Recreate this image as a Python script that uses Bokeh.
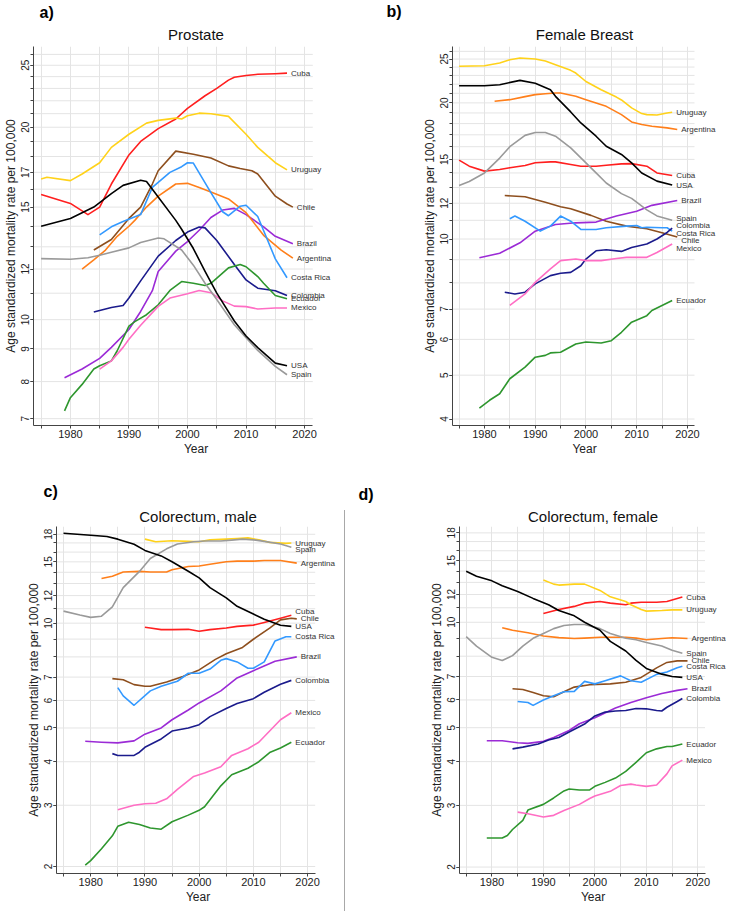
from bokeh.plotting import figure
from bokeh.models import ColumnDataSource, LabelSet, FixedTicker, Range1d, Title, Div, Spacer
from bokeh.layouts import row, column
from bokeh.core.properties import value
from bokeh.embed import file_html
from bokeh.resources import INLINE

FONT = "Liberation Sans"
COLORS = {
    "Cuba": "#ff1f1f", "Uruguay": "#ffd21a", "Chile": "#8e4f1e", "Brazil": "#9b2bd6",
    "Argentina": "#ff7f1a", "Costa Rica": "#3399ff", "Colombia": "#1b1b8c",
    "Ecuador": "#2e962e", "Mexico": "#ff6ec4", "USA": "#000000", "Spain": "#9a9a9a",
}

# ---------------- a) Prostate ----------------
a_cuba_yr = [1975, 1980, 1983, 1985, 1987, 1990, 1992, 1995, 1998, 2000, 2003, 2005, 2007, 2008, 2010, 2012, 2015, 2017]
a_cuba = [15.7, 15.2, 14.6, 15.0, 16.3, 18.1, 19.0, 19.9, 20.6, 21.4, 22.4, 23.0, 23.7, 23.95, 24.1, 24.2, 24.25, 24.3]
a_uruguay_yr = [1975, 1976, 1980, 1982, 1985, 1987, 1990, 1993, 1995, 1998, 1999, 2000, 2002, 2004, 2007, 2010, 2012, 2015, 2017]
a_uruguay = [16.6, 16.7, 16.5, 16.9, 17.6, 18.6, 19.5, 20.3, 20.5, 20.67, 20.6, 20.84, 21.04, 21.0, 20.8, 19.5, 18.6, 17.6, 17.15]
a_chile_yr = [1984, 1987, 1990, 1992, 1994, 1995, 1998, 2001, 2004, 2007, 2009, 2011, 2012, 2015, 2017, 2018]
a_chile = [12.85, 13.35, 14.4, 15.0, 16.3, 17.1, 18.35, 18.14, 17.9, 17.4, 17.24, 17.1, 16.9, 15.6, 15.17, 15.0]
a_brazil_yr = [1979, 1982, 1985, 1987, 1990, 1992, 1994, 1995, 1998, 2000, 2002, 2004, 2006, 2008, 2010, 2013, 2015, 2018]
a_brazil = [8.11, 8.37, 8.7, 9.05, 9.65, 10.3, 11.1, 11.89, 12.8, 13.25, 13.8, 14.45, 14.84, 14.93, 14.6, 13.97, 13.5, 13.15]
a_argentina_yr = [1982, 1984, 1986, 1988, 1990, 1991, 1993, 1995, 1998, 2000, 2002, 2004, 2007, 2010, 2013, 2016, 2018]
a_argentina = [12.0, 12.4, 12.85, 13.5, 14.0, 14.3, 15.0, 15.6, 16.3, 16.34, 16.1, 15.84, 15.45, 14.7, 13.55, 12.85, 12.48]
a_costarica_yr = [1985, 1987, 1989, 1992, 1994, 1997, 1999, 2000, 2001, 2004, 2006, 2007, 2009, 2010, 2012, 2015, 2017]
a_costarica = [13.57, 13.97, 14.24, 14.6, 16.1, 17.0, 17.35, 17.6, 17.58, 15.8, 14.75, 14.54, 15.05, 15.1, 14.5, 12.45, 11.63]
a_colombia_yr = [1984, 1987, 1989, 1990, 1992, 1995, 1998, 2000, 2002, 2003, 2005, 2008, 2010, 2012, 2015, 2017]
a_colombia = [10.28, 10.45, 10.52, 10.81, 11.5, 12.57, 13.3, 13.71, 13.96, 13.92, 13.3, 12.2, 11.54, 11.2, 11.1, 10.91]
a_ecuador_yr = [1979, 1980, 1982, 1984, 1985, 1987, 1988, 1990, 1991, 1993, 1995, 1997, 1999, 2001, 2003, 2004, 2007, 2009, 2010, 2012, 2013, 2015, 2017]
a_ecuador = [7.2, 7.55, 7.92, 8.37, 8.47, 8.62, 8.94, 9.77, 9.93, 10.18, 10.55, 11.11, 11.47, 11.4, 11.31, 11.4, 12.05, 12.2, 12.1, 11.68, 11.4, 10.91, 10.78]
a_mexico_yr = [1985, 1987, 1989, 1990, 1992, 1995, 1997, 2000, 2002, 2004, 2006, 2008, 2010, 2012, 2015, 2017]
a_mexico = [8.37, 8.62, 9.05, 9.32, 9.8, 10.49, 10.81, 10.98, 11.11, 11.02, 10.7, 10.5, 10.48, 10.39, 10.43, 10.43]
a_usa_yr = [1975, 1980, 1984, 1987, 1989, 1992, 1993, 1995, 1998, 1999, 2001, 2003, 2005, 2008, 2010, 2012, 2015, 2017]
a_usa = [14.0, 14.4, 15.0, 15.75, 16.22, 16.52, 16.45, 15.55, 14.3, 13.85, 12.92, 11.9, 11.0, 9.95, 9.43, 9.04, 8.55, 8.47]
a_spain_yr = [1975, 1980, 1983, 1985, 1987, 1990, 1992, 1995, 1996, 1999, 2001, 2003, 2005, 2008, 2010, 2012, 2015, 2017]
a_spain = [12.46, 12.43, 12.5, 12.61, 12.75, 12.95, 13.2, 13.42, 13.38, 12.85, 12.17, 11.4, 10.75, 9.82, 9.37, 8.95, 8.45, 8.2]

# ---------------- b) Female Breast ----------------
b_uruguay_yr = [1975, 1980, 1983, 1985, 1987, 1990, 1992, 1994, 1997, 1998, 2000, 2003, 2006, 2007, 2009, 2011, 2012, 2014, 2016, 2017]
b_uruguay = [24.1, 24.17, 24.5, 24.92, 25.13, 25.0, 24.75, 24.3, 23.6, 23.28, 22.3, 21.39, 20.6, 20.3, 19.5, 18.94, 18.84, 18.81, 19.0, 19.07]
b_usa_yr = [1975, 1980, 1983, 1987, 1990, 1993, 1994, 1997, 1999, 2002, 2004, 2007, 2009, 2011, 2014, 2017]
b_usa = [21.83, 21.83, 21.94, 22.43, 22.1, 21.39, 20.68, 19.1, 18.06, 16.88, 16.04, 15.38, 14.74, 14.0, 13.43, 13.16]
b_argentina_yr = [1982, 1985, 1988, 1990, 1992, 1994, 1995, 1998, 2000, 2002, 2004, 2007, 2009, 2011, 2013, 2016, 2018]
b_argentina = [20.16, 20.33, 20.65, 20.86, 20.96, 21.03, 21.03, 20.68, 20.33, 19.99, 19.65, 18.84, 18.15, 17.91, 17.76, 17.61, 17.46]
b_spain_yr = [1975, 1977, 1980, 1983, 1985, 1988, 1990, 1992, 1994, 1997, 1999, 2002, 2004, 2007, 2009, 2012, 2014, 2017]
b_spain = [13.13, 13.4, 14.0, 15.1, 16.0, 16.95, 17.2, 17.2, 16.88, 15.9, 15.12, 14.0, 13.3, 12.6, 12.3, 11.6, 11.25, 11.0]
b_cuba_yr = [1975, 1977, 1980, 1983, 1985, 1988, 1990, 1993, 1994, 1997, 1999, 2002, 2004, 2007, 2009, 2012, 2014, 2017]
b_cuba = [14.94, 14.49, 14.13, 14.25, 14.37, 14.54, 14.74, 14.81, 14.81, 14.61, 14.49, 14.49, 14.56, 14.66, 14.68, 14.49, 14.0, 13.82]
b_brazil_yr = [1979, 1983, 1987, 1990, 1994, 1998, 2002, 2006, 2010, 2013, 2018]
b_brazil = [9.09, 9.3, 9.81, 10.41, 10.77, 10.86, 10.9, 11.24, 11.52, 11.87, 12.17]
b_chile_yr = [1984, 1988, 1992, 1995, 1997, 2001, 2004, 2008, 2012, 2015, 2018]
b_chile = [12.48, 12.4, 12.06, 11.79, 11.67, 11.28, 10.95, 10.68, 10.54, 10.33, 10.1]
b_costarica_yr = [1985, 1986, 1988, 1991, 1993, 1995, 1997, 1999, 2002, 2004, 2008, 2010, 2011, 2012, 2015, 2016, 2017]
b_costarica = [11.09, 11.24, 10.95, 10.41, 10.68, 11.24, 10.95, 10.5, 10.5, 10.59, 10.68, 10.71, 10.59, 10.62, 10.59, 10.59, 10.41]
b_colombia_yr = [1984, 1986, 1988, 1990, 1993, 1995, 1997, 1999, 2000, 2002, 2004, 2007, 2009, 2012, 2014, 2016, 2017]
b_colombia = [7.63, 7.56, 7.63, 7.96, 8.3, 8.4, 8.44, 8.73, 9.03, 9.42, 9.47, 9.39, 9.58, 9.75, 10.0, 10.34, 10.57]
b_mexico_yr = [1985, 1988, 1990, 1993, 1995, 1998, 2000, 2003, 2006, 2008, 2012, 2014, 2017]
b_mexico = [7.13, 7.56, 8.02, 8.59, 8.96, 9.03, 8.96, 8.96, 9.06, 9.11, 9.11, 9.34, 9.75]
b_ecuador_yr = [1979, 1981, 1983, 1985, 1988, 1990, 1992, 1993, 1995, 1998, 2000, 2003, 2005, 2007, 2009, 2012, 2013, 2015, 2017]
b_ecuador = [4.23, 4.4, 4.55, 4.91, 5.21, 5.48, 5.53, 5.6, 5.62, 5.86, 5.92, 5.89, 5.96, 6.22, 6.55, 6.77, 6.95, 7.13, 7.31]

# ---------------- c) Colorectum, male ----------------
c_usa_yr = [1975, 1980, 1983, 1985, 1988, 1990, 1993, 1995, 1998, 2000, 2002, 2005, 2007, 2010, 2012, 2015, 2017]
c_usa = [18.12, 17.88, 17.73, 17.43, 16.85, 16.18, 15.6, 15.01, 14.1, 13.49, 12.65, 11.82, 11.18, 10.62, 10.26, 9.86, 9.79]
c_uruguay_yr = [1990, 1992, 1995, 1998, 2000, 2002, 2005, 2007, 2009, 2011, 2013, 2016, 2017]
c_uruguay = [17.43, 17.13, 17.25, 17.17, 17.13, 17.35, 17.43, 17.51, 17.58, 17.35, 17.06, 16.95, 16.99]
c_spain_yr = [1975, 1978, 1980, 1982, 1984, 1986, 1989, 1991, 1994, 1996, 1999, 2001, 2004, 2006, 2008, 2010, 2012, 2015, 2017]
c_spain = [10.83, 10.55, 10.39, 10.47, 11.13, 12.65, 14.08, 15.34, 16.35, 16.88, 17.13, 17.21, 17.21, 17.32, 17.43, 17.35, 17.17, 16.88, 16.53]
c_argentina_yr = [1982, 1984, 1986, 1989, 1991, 1994, 1995, 1998, 2000, 2002, 2005, 2007, 2010, 2012, 2015, 2018]
c_argentina = [13.43, 13.64, 14.02, 14.08, 14.02, 14.02, 14.23, 14.54, 14.6, 14.76, 15.01, 15.07, 15.07, 15.13, 15.13, 14.87]
c_cuba_yr = [1990, 1991, 1993, 1995, 1998, 2000, 2002, 2005, 2007, 2010, 2012, 2015, 2017]
c_cuba = [9.73, 9.69, 9.58, 9.58, 9.6, 9.48, 9.58, 9.69, 9.79, 9.87, 10.05, 10.33, 10.53]
c_chile_yr = [1984, 1986, 1988, 1990, 1991, 1994, 1997, 2000, 2003, 2005, 2008, 2010, 2013, 2015, 2017, 2018]
c_chile = [6.93, 6.88, 6.66, 6.59, 6.59, 6.78, 7.03, 7.34, 7.87, 8.17, 8.52, 8.99, 9.68, 10.22, 10.33, 10.29]
c_costarica_yr = [1985, 1986, 1988, 1991, 1993, 1996, 1998, 2000, 2002, 2004, 2005, 2007, 2009, 2010, 2012, 2014, 2016, 2017]
c_costarica = [6.53, 6.18, 5.81, 6.39, 6.59, 6.81, 7.18, 7.18, 7.38, 7.82, 7.91, 7.74, 7.42, 7.42, 7.74, 8.89, 9.14, 9.14]
c_brazil_yr = [1979, 1982, 1985, 1988, 1990, 1993, 1995, 1998, 2000, 2004, 2007, 2010, 2014, 2018]
c_brazil = [4.58, 4.55, 4.53, 4.59, 4.8, 5.0, 5.28, 5.63, 5.9, 6.39, 6.96, 7.3, 7.77, 8.0]
c_colombia_yr = [1984, 1985, 1988, 1989, 1990, 1993, 1995, 1998, 2000, 2002, 2005, 2007, 2010, 2012, 2015, 2017]
c_colombia = [4.22, 4.17, 4.17, 4.26, 4.40, 4.65, 4.90, 5.0, 5.11, 5.39, 5.69, 5.88, 6.07, 6.33, 6.68, 6.85]
c_mexico_yr = [1985, 1988, 1990, 1992, 1994, 1996, 1999, 2001, 2004, 2006, 2009, 2011, 2013, 2015, 2017]
c_mexico = [2.91, 3.0, 3.03, 3.04, 3.13, 3.33, 3.63, 3.71, 3.87, 4.17, 4.36, 4.55, 4.9, 5.28, 5.53]
c_ecuador_yr = [1979, 1980, 1982, 1984, 1985, 1987, 1989, 1991, 1993, 1995, 1998, 2000, 2001, 2004, 2006, 2009, 2011, 2013, 2015, 2017]
c_ecuador = [2.02, 2.08, 2.25, 2.45, 2.61, 2.68, 2.64, 2.58, 2.56, 2.69, 2.81, 2.90, 2.97, 3.41, 3.67, 3.83, 4.0, 4.25, 4.38, 4.55]

# ---------------- d) Colorectum, female ----------------
d_usa_yr = [1975, 1977, 1980, 1982, 1985, 1988, 1991, 1993, 1996, 1998, 2001, 2003, 2006, 2008, 2010, 2013, 2015, 2017]
d_usa = [13.98, 13.54, 13.13, 12.72, 12.25, 11.7, 11.22, 10.8, 10.43, 10.0, 9.49, 8.82, 8.28, 7.78, 7.38, 7.11, 7.0, 6.96]
d_uruguay_yr = [1990, 1992, 1993, 1996, 1998, 2001, 2003, 2006, 2007, 2009, 2010, 2013, 2015, 2017]
d_uruguay = [13.21, 12.85, 12.77, 12.85, 12.85, 12.33, 11.82, 11.46, 11.22, 10.87, 10.76, 10.8, 10.85, 10.85]
d_cuba_yr = [1990, 1993, 1996, 1998, 2001, 2003, 2006, 2007, 2009, 2012, 2014, 2017]
d_cuba = [10.6, 10.87, 11.1, 11.34, 11.46, 11.34, 11.22, 11.34, 11.41, 11.41, 11.46, 11.8]
d_argentina_yr = [1982, 1984, 1987, 1990, 1993, 1996, 1998, 2001, 2003, 2006, 2008, 2010, 2013, 2015, 2018]
d_argentina = [9.65, 9.49, 9.33, 9.14, 9.04, 8.99, 9.01, 9.06, 9.06, 9.06, 9.01, 8.91, 8.99, 9.03, 8.99]
d_spain_yr = [1975, 1977, 1980, 1982, 1984, 1986, 1988, 1990, 1992, 1994, 1996, 1998, 2001, 2003, 2006, 2008, 2010, 2013, 2015, 2017]
d_spain = [9.1, 8.55, 7.94, 7.78, 8.03, 8.55, 9.0, 9.29, 9.59, 9.79, 9.85, 9.85, 9.59, 9.29, 9.0, 8.91, 8.76, 8.55, 8.32, 8.16]
d_chile_yr = [1984, 1986, 1988, 1990, 1992, 1994, 1996, 1999, 2003, 2006, 2009, 2012, 2014, 2016, 2018]
d_chile = [6.46, 6.43, 6.30, 6.17, 6.13, 6.33, 6.53, 6.63, 6.67, 6.74, 6.96, 7.41, 7.68, 7.76, 7.76]
d_costarica_yr = [1985, 1987, 1988, 1990, 1992, 1994, 1996, 1998, 2000, 2002, 2005, 2007, 2009, 2012, 2014, 2016, 2017]
d_costarica = [5.94, 5.90, 5.79, 6.0, 6.17, 6.33, 6.35, 6.78, 6.67, 6.81, 7.03, 6.81, 6.74, 7.1, 7.21, 7.41, 7.49]
d_brazil_yr = [1979, 1982, 1985, 1987, 1990, 1992, 1995, 1997, 2000, 2004, 2007, 2010, 2013, 2016, 2018]
d_brazil = [4.59, 4.59, 4.53, 4.51, 4.57, 4.69, 4.91, 5.13, 5.34, 5.69, 5.9, 6.09, 6.26, 6.39, 6.46]
d_colombia_yr = [1984, 1986, 1989, 1991, 1993, 1995, 1998, 2000, 2002, 2004, 2006, 2008, 2010, 2012, 2013, 2014, 2016, 2017]
d_colombia = [4.35, 4.40, 4.49, 4.61, 4.69, 4.86, 5.12, 5.40, 5.54, 5.58, 5.60, 5.67, 5.66, 5.60, 5.58, 5.72, 5.94, 6.06]
d_ecuador_yr = [1979, 1982, 1983, 1984, 1986, 1987, 1990, 1992, 1994, 1995, 1997, 1999, 2000, 2002, 2004, 2006, 2008, 2010, 2012, 2014, 2015, 2017]
d_ecuador = [2.42, 2.42, 2.46, 2.56, 2.72, 2.91, 3.02, 3.15, 3.30, 3.34, 3.32, 3.32, 3.40, 3.49, 3.59, 3.75, 3.98, 4.24, 4.35, 4.42, 4.42, 4.49]
d_mexico_yr = [1985, 1987, 1990, 1992, 1994, 1997, 1999, 2000, 2003, 2005, 2007, 2008, 2010, 2012, 2014, 2015, 2017]
d_mexico = [2.87, 2.84, 2.78, 2.81, 2.90, 3.02, 3.14, 3.19, 3.29, 3.42, 3.45, 3.43, 3.40, 3.43, 3.69, 3.89, 4.04]

X_TICKS = [1980, 1990, 2000, 2010, 2020]
X_MINOR = [1975, 1985, 1995, 2005, 2015]
X_START, X_AXIS_END = 1973.7, 2021.4

# label nudges in pixels (positive = up), styling only
NUDGE_B = {"Spain": 2, "Colombia": 3, "Costa Rica": -2, "Chile": -3, "Mexico": -4}
NUDGE_C = {"Cuba": 4, "Spain": -2}
GRID = "#e4e4e4"


def panel(series, title, letter, letter_offset, y_lo, y_hi, major, w, h, bl, bt, bb, axis_end,
          title_standoff, letter_standoff, nudges=None):
    nudges = nudges or {}
    # extend the x range to the canvas edge so the end labels are not clipped;
    # the axis itself and the grid stop at X_AXIS_END
    px_per_year = (axis_end - bl) / (X_AXIS_END - X_START)
    x_end = X_AXIS_END + (w - axis_end) / px_per_year
    p = figure(width=w, height=h, title=None, y_axis_type="log",
               x_range=Range1d(X_START, x_end), y_range=Range1d(y_lo, y_hi),
               output_backend="svg", toolbar_location=None,
               min_border_left=bl, min_border_right=0, min_border_top=bt, min_border_bottom=bb)
    p.outline_line_color = None
    p.background_fill_color = "white"
    p.add_layout(Title(text=title, align="center", text_font=FONT, text_font_size="15px",
                       text_font_style="normal", text_color="#111", standoff=title_standoff), "above")
    p.add_layout(Title(text=letter, align="left", offset=letter_offset, text_font=FONT,
                       text_font_size="16px", text_font_style="bold", text_color="#000",
                       standoff=letter_standoff), "above")
    # horizontal grid at every integer rate, limited to the axis extent
    gy = list(range(int(y_lo) + 1, int(y_hi) + 1))
    p.segment(x0=[X_START] * len(gy), x1=[X_AXIS_END] * len(gy), y0=gy, y1=gy,
              line_color=GRID, line_width=1, level="underlay")
    for name, yr, vals in series:
        p.line(yr, vals, line_color=COLORS[name], line_width=1.6, line_join="round")
    src = ColumnDataSource(dict(
        x=[s[1][-1] for s in series], y=[s[2][-1] for s in series],
        t=[s[0] for s in series], dy=[nudges.get(s[0], 0) for s in series]))
    p.add_layout(LabelSet(x="x", y="y", text="t", source=src, x_offset=4, y_offset="dy",
                          text_baseline="middle", text_font=value(FONT), text_font_size="8px",
                          text_color="#333"))
    p.xaxis.ticker = FixedTicker(ticks=X_TICKS, minor_ticks=X_MINOR)
    p.xaxis.bounds = (X_START, X_AXIS_END)
    p.yaxis.ticker = FixedTicker(ticks=major, minor_ticks=gy)
    p.ygrid.visible = False
    p.xgrid.grid_line_color = GRID
    p.xgrid.minor_grid_line_color = GRID
    p.xaxis.axis_label = "Year"
    p.yaxis.axis_label = "Age standardized mortality rate per 100,000"
    p.yaxis.major_label_orientation = "vertical"
    for ax in (p.xaxis, p.yaxis):
        ax.axis_label_text_font = FONT
        ax.axis_label_text_font_size = "12px"
        ax.axis_label_text_font_style = "normal"
        ax.axis_label_text_color = "#222"
        ax.major_label_text_font = FONT
        ax.major_label_text_color = "#222"
        ax.axis_line_color = "#444"
        ax.major_tick_line_color = "#444"
        ax.minor_tick_line_color = "#444"
        ax.major_tick_in = 0
        ax.minor_tick_in = 0
        ax.major_tick_out = 3
        ax.minor_tick_out = 3
        ax.major_label_standoff = 1
        ax.axis_label_standoff = 1
    p.xaxis.major_label_text_font_size = "11px"
    p.yaxis.major_label_text_font_size = "10px"
    return p


order = ["Cuba", "Uruguay", "Chile", "Brazil", "Argentina", "Costa Rica", "Colombia",
         "Ecuador", "Mexico", "Spain", "USA"]

A = {"Cuba": (a_cuba_yr, a_cuba), "Uruguay": (a_uruguay_yr, a_uruguay), "Chile": (a_chile_yr, a_chile),
     "Brazil": (a_brazil_yr, a_brazil), "Argentina": (a_argentina_yr, a_argentina),
     "Costa Rica": (a_costarica_yr, a_costarica), "Colombia": (a_colombia_yr, a_colombia),
     "Ecuador": (a_ecuador_yr, a_ecuador), "Mexico": (a_mexico_yr, a_mexico),
     "USA": (a_usa_yr, a_usa), "Spain": (a_spain_yr, a_spain)}
B = {"Cuba": (b_cuba_yr, b_cuba), "Uruguay": (b_uruguay_yr, b_uruguay), "Chile": (b_chile_yr, b_chile),
     "Brazil": (b_brazil_yr, b_brazil), "Argentina": (b_argentina_yr, b_argentina),
     "Costa Rica": (b_costarica_yr, b_costarica), "Colombia": (b_colombia_yr, b_colombia),
     "Ecuador": (b_ecuador_yr, b_ecuador), "Mexico": (b_mexico_yr, b_mexico),
     "USA": (b_usa_yr, b_usa), "Spain": (b_spain_yr, b_spain)}
C = {"Cuba": (c_cuba_yr, c_cuba), "Uruguay": (c_uruguay_yr, c_uruguay), "Chile": (c_chile_yr, c_chile),
     "Brazil": (c_brazil_yr, c_brazil), "Argentina": (c_argentina_yr, c_argentina),
     "Costa Rica": (c_costarica_yr, c_costarica), "Colombia": (c_colombia_yr, c_colombia),
     "Ecuador": (c_ecuador_yr, c_ecuador), "Mexico": (c_mexico_yr, c_mexico),
     "USA": (c_usa_yr, c_usa), "Spain": (c_spain_yr, c_spain)}
D = {"Cuba": (d_cuba_yr, d_cuba), "Uruguay": (d_uruguay_yr, d_uruguay), "Chile": (d_chile_yr, d_chile),
     "Brazil": (d_brazil_yr, d_brazil), "Argentina": (d_argentina_yr, d_argentina),
     "Costa Rica": (d_costarica_yr, d_costarica), "Colombia": (d_colombia_yr, d_colombia),
     "Ecuador": (d_ecuador_yr, d_ecuador), "Mexico": (d_mexico_yr, d_mexico),
     "USA": (d_usa_yr, d_usa), "Spain": (d_spain_yr, d_spain)}


def ser(d):
    return [(k, d[k][0], d[k][1]) for k in order]


pA = panel(ser(A), "Prostate", "a)", 6, 6.83, 26.75, [7, 8, 9, 10, 12, 15, 17, 20, 25],
           358, 458, 31, 41, 26, 312, 7, 0)
pB = panel(ser(B), "Female Breast", "b)", -66, 3.87, 26.65, [4, 5, 6, 7, 10, 12, 15, 20, 25],
           358, 458, 94, 41, 30, 336, 8, 0, NUDGE_B)
pC = panel(ser(C), "Colorectum, male", "c)", -13, 1.91, 18.95, [2, 3, 4, 5, 6, 7, 10, 12, 15, 18],
           339, 448, 56, 68, 26, 314.7, 3, 9, NUDGE_C)
pD = panel(ser(D), "Colorectum, female", "d)", -101, 1.917, 18.77, [2, 3, 4, 5, 6, 7, 10, 12, 15, 18],
           376, 448, 109, 62, 26, 354.5, 3, 3)

sep = column(Spacer(width=1, height=47),
             Div(text="", width=1, height=401, styles={"background-color": "#a8a8a8"}))
layout = column(row(pA, pB), row(pC, sep, pD))

open("out.html", "w").write(file_html(layout, INLINE))
